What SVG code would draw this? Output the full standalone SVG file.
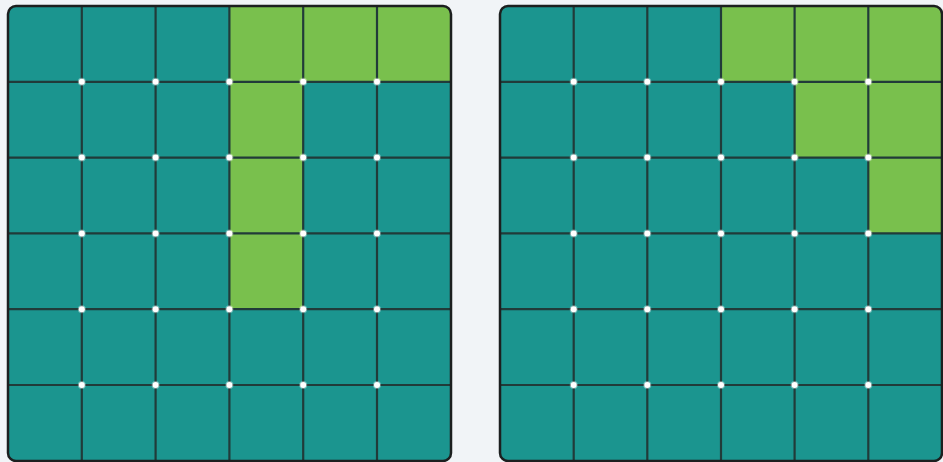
<svg xmlns="http://www.w3.org/2000/svg" width="943" height="462" viewBox="0 0 943 462">
<style>
.t{fill:#1b958f}
.g{fill:#79c04d}
.ln{stroke:#213b39;stroke-width:2.2;fill:none}
.bd{fill:none;stroke:#1c1f1f;stroke-width:2.5}
.dot{fill:#ffffff}
.dot circle{stroke:#ffffff;stroke-opacity:0.35;stroke-width:2}
</style>
<defs>
<clipPath id="cl"><rect x="8" y="6" width="443" height="455" rx="8"/></clipPath>
<clipPath id="cr"><rect x="500" y="6" width="442" height="455" rx="8"/></clipPath>
</defs>
<rect width="943" height="462" fill="#f1f4f7"/>
<g id="grid-left">
<g clip-path="url(#cl)">
<rect class="t" x="8" y="6" width="443" height="455"/>
<rect class="g" x="229.4" y="6" width="221.6" height="75.8"/>
<rect class="g" x="229.4" y="81.8" width="73.8" height="227.4"/>
<g class="ln">
<line x1="81.8" y1="6" x2="81.8" y2="461"/><line x1="155.6" y1="6" x2="155.6" y2="461"/><line x1="229.4" y1="6" x2="229.4" y2="461"/><line x1="303.2" y1="6" x2="303.2" y2="461"/><line x1="377" y1="6" x2="377" y2="461"/>
<line x1="8" y1="81.8" x2="451" y2="81.8"/><line x1="8" y1="157.6" x2="451" y2="157.6"/><line x1="8" y1="233.4" x2="451" y2="233.4"/><line x1="8" y1="309.2" x2="451" y2="309.2"/><line x1="8" y1="385" x2="451" y2="385"/>
</g>
</g>
<rect class="bd" x="8" y="6" width="443" height="455" rx="8"/>
<g class="dot">
<circle cx="81.8" cy="81.8" r="3"/><circle cx="155.6" cy="81.8" r="3"/><circle cx="229.4" cy="81.8" r="3"/><circle cx="303.2" cy="81.8" r="3"/><circle cx="377" cy="81.8" r="3"/>
<circle cx="81.8" cy="157.6" r="3"/><circle cx="155.6" cy="157.6" r="3"/><circle cx="229.4" cy="157.6" r="3"/><circle cx="303.2" cy="157.6" r="3"/><circle cx="377" cy="157.6" r="3"/>
<circle cx="81.8" cy="233.4" r="3"/><circle cx="155.6" cy="233.4" r="3"/><circle cx="229.4" cy="233.4" r="3"/><circle cx="303.2" cy="233.4" r="3"/><circle cx="377" cy="233.4" r="3"/>
<circle cx="81.8" cy="309.2" r="3"/><circle cx="155.6" cy="309.2" r="3"/><circle cx="229.4" cy="309.2" r="3"/><circle cx="303.2" cy="309.2" r="3"/><circle cx="377" cy="309.2" r="3"/>
<circle cx="81.8" cy="385" r="3"/><circle cx="155.6" cy="385" r="3"/><circle cx="229.4" cy="385" r="3"/><circle cx="303.2" cy="385" r="3"/><circle cx="377" cy="385" r="3"/>
</g>
</g>
<g id="grid-right">
<g clip-path="url(#cr)">
<rect class="t" x="500" y="6" width="442" height="455"/>
<rect class="g" x="721" y="6" width="221" height="75.8"/>
<rect class="g" x="794.6" y="81.8" width="147.4" height="75.8"/>
<rect class="g" x="868.3" y="157.6" width="73.7" height="75.8"/>
<g class="ln">
<line x1="573.7" y1="6" x2="573.7" y2="461"/><line x1="647.3" y1="6" x2="647.3" y2="461"/><line x1="721" y1="6" x2="721" y2="461"/><line x1="794.6" y1="6" x2="794.6" y2="461"/><line x1="868.3" y1="6" x2="868.3" y2="461"/>
<line x1="500" y1="81.8" x2="942" y2="81.8"/><line x1="500" y1="157.6" x2="942" y2="157.6"/><line x1="500" y1="233.4" x2="942" y2="233.4"/><line x1="500" y1="309.2" x2="942" y2="309.2"/><line x1="500" y1="385" x2="942" y2="385"/>
</g>
</g>
<rect class="bd" x="500" y="6" width="442" height="455" rx="8"/>
<g class="dot">
<circle cx="573.7" cy="81.8" r="3"/><circle cx="647.3" cy="81.8" r="3"/><circle cx="721" cy="81.8" r="3"/><circle cx="794.6" cy="81.8" r="3"/><circle cx="868.3" cy="81.8" r="3"/>
<circle cx="573.7" cy="157.6" r="3"/><circle cx="647.3" cy="157.6" r="3"/><circle cx="721" cy="157.6" r="3"/><circle cx="794.6" cy="157.6" r="3"/><circle cx="868.3" cy="157.6" r="3"/>
<circle cx="573.7" cy="233.4" r="3"/><circle cx="647.3" cy="233.4" r="3"/><circle cx="721" cy="233.4" r="3"/><circle cx="794.6" cy="233.4" r="3"/><circle cx="868.3" cy="233.4" r="3"/>
<circle cx="573.7" cy="309.2" r="3"/><circle cx="647.3" cy="309.2" r="3"/><circle cx="721" cy="309.2" r="3"/><circle cx="794.6" cy="309.2" r="3"/><circle cx="868.3" cy="309.2" r="3"/>
<circle cx="573.7" cy="385" r="3"/><circle cx="647.3" cy="385" r="3"/><circle cx="721" cy="385" r="3"/><circle cx="794.6" cy="385" r="3"/><circle cx="868.3" cy="385" r="3"/>
</g>
</g>
</svg>
